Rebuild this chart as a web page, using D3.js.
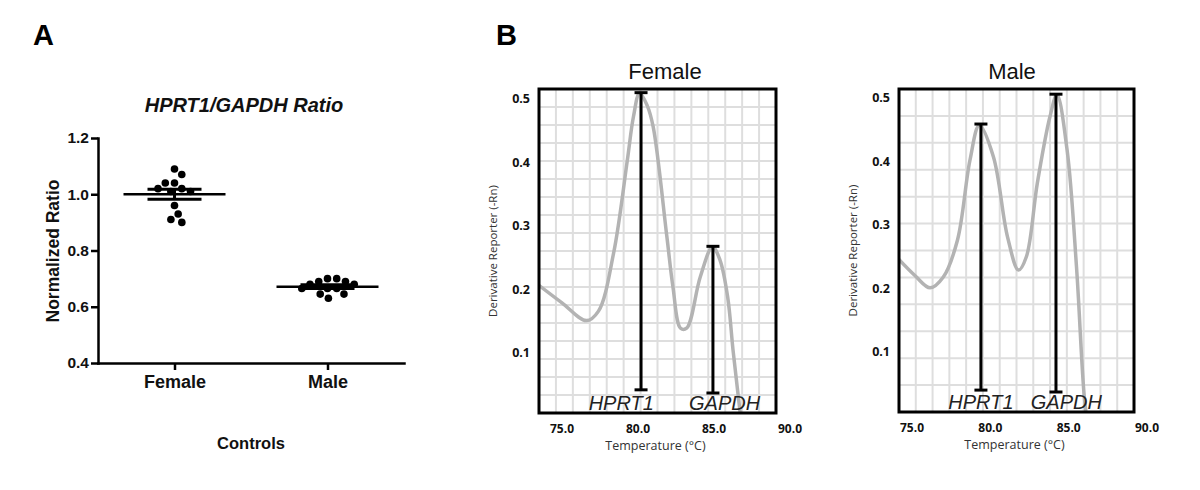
<!DOCTYPE html>
<html>
<head>
<meta charset="utf-8">
<script src="https://cdn.jsdelivr.net/npm/d3@7"></script>
<style>
  body { margin: 0; background: #fff; }
  svg { display: block; }
</style>
</head>
<body>
<div id="chart"></div>
<script>
/* =========================
   DATA
   ========================= */

// Panel A : HPRT1/GAPDH normalized ratio
const groups = ["Female", "Male"];
const femaleRatios = [1.09, 1.07, 1.04, 1.04, 1.02, 1.02, 1.01, 1.01, 0.96, 0.93, 0.91, 0.90];
const maleRatios = [0.70, 0.70, 0.69, 0.69, 0.68, 0.68, 0.665, 0.665, 0.665, 0.645, 0.645, 0.63];
const ratioTicks = [0.4, 0.6, 0.8, 1.0, 1.2];

// Panel B : melt curves (temperature °C, derivative reporter)
const femaleTemp = [73.3, 75.0, 76.6, 77.4, 78.4, 79.3, 79.7, 80.1, 80.6, 81.0, 81.9, 82.3, 82.8, 83.2, 84.1, 84.9, 85.4, 85.9, 86.25, 86.6, 86.9];
const femaleDeriv = [0.21, 0.179, 0.151, 0.166, 0.258, 0.404, 0.472, 0.509, 0.49, 0.456, 0.283, 0.204, 0.139, 0.139, 0.22, 0.267, 0.246, 0.188, 0.105, 0.031, -0.03];

const maleTemp = [74.0, 75.2, 76.15, 77.0, 77.9, 78.7, 79.3, 80.2, 81.1, 81.8, 82.3, 83.0, 83.8, 84.25, 84.9, 85.5, 86.0, 86.3];
const maleDeriv = [0.25, 0.22, 0.201, 0.218, 0.276, 0.402, 0.457, 0.407, 0.281, 0.229, 0.25, 0.366, 0.47, 0.505, 0.418, 0.234, 0.029, -0.03];

const genes = ["HPRT1", "GAPDH"];
const femalePeakTemp = [80.2, 84.93];
const femalePeakTop = [0.51, 0.268];
const femalePeakBottom = [0.042, 0.037];
const femaleLabelTemp = [78.9, 85.7];

const malePeakTemp = [79.4, 84.19];
const malePeakTop = [0.459, 0.506];
const malePeakBottom = [0.04, 0.037];
const maleLabelTemp = [79.4, 84.85];

const tempTicks = [75, 80, 85, 90];
const derivTicks = [0.1, 0.2, 0.3, 0.4, 0.5];

/* =========================
   SVG
   ========================= */

const WIDTH = 1200;
const HEIGHT = 490;

const svg = d3.select("#chart")
  .append("svg")
  .attr("width", WIDTH)
  .attr("height", HEIGHT);

svg.append("rect")
  .attr("width", WIDTH)
  .attr("height", HEIGHT)
  .attr("fill", "#fff");

const SANS = "'Liberation Sans', Arial, sans-serif";
const OPEN = "'Open Sans', 'Liberation Sans', sans-serif";

// panel letters
svg.append("text").attr("x", 33).attr("y", 45)
  .attr("font-family", SANS).attr("font-size", 29).attr("font-weight", "bold").text("A");
svg.append("text").attr("x", 496).attr("y", 45)
  .attr("font-family", SANS).attr("font-size", 29).attr("font-weight", "bold").text("B");

/* =========================
   PANEL A : dot plot
   ========================= */

const yA = d3.scaleLinear().domain([0.4, 1.2]).range([363, 138]);
const xA = d3.scalePoint().domain(groups).range([98, 404]).padding(0.5);

const gA = svg.append("g");

// y axis
const yAxisA = gA.append("g")
  .attr("transform", "translate(98,0)")
  .call(d3.axisLeft(yA).tickValues(ratioTicks).tickFormat(d3.format(".1f"))
    .tickSize(7).tickSizeOuter(0).tickPadding(2));

// x axis
const xAxisA = gA.append("g")
  .attr("transform", "translate(0,363)")
  .call(d3.axisBottom(xA).tickSize(7).tickSizeOuter(0).tickPadding(5));

gA.selectAll(".domain").attr("stroke", "#000").attr("stroke-width", 2.5)
  .attr("stroke-linecap", "square");
gA.selectAll(".tick line").attr("stroke", "#000").attr("stroke-width", 2.5);
yAxisA.selectAll("text").attr("font-family", SANS).attr("font-weight", "bold")
  .attr("font-size", 15.5).attr("fill", "#111");
xAxisA.selectAll("text").attr("font-family", SANS).attr("font-weight", "bold")
  .attr("font-size", 18).attr("fill", "#111");

// titles
gA.append("text")
  .attr("x", 244).attr("y", 112)
  .attr("text-anchor", "middle")
  .attr("font-family", SANS).attr("font-weight", "bold").attr("font-style", "italic")
  .attr("font-size", 20).attr("fill", "#111")
  .text("HPRT1/GAPDH Ratio");

gA.append("text")
  .attr("transform", "translate(59,251) rotate(-90)")
  .attr("text-anchor", "middle")
  .attr("font-family", SANS).attr("font-weight", "bold")
  .attr("font-size", 17.5).attr("fill", "#111")
  .text("Normalized Ratio");

gA.append("text")
  .attr("x", 251).attr("y", 449)
  .attr("text-anchor", "middle")
  .attr("font-family", SANS).attr("font-weight", "bold")
  .attr("font-size", 16.5).attr("fill", "#111")
  .text("Controls");

// simple beeswarm placement
function swarm(values, cx, r) {
  const placed = [];
  const pts = values.map(v => ({ v, y: yA(v) })).sort((a, b) => a.y - b.y);
  pts.forEach(p => {
    const cands = [0];
    placed.forEach(q => {
      const dy = Math.abs(p.y - q.y);
      if (dy < 2 * r) {
        const dx = Math.sqrt(4 * r * r - dy * dy);
        cands.push(q.x + dx, q.x - dx);
      }
    });
    cands.sort((a, b) => Math.abs(a) - Math.abs(b));
    p.x = cands.find(c => placed.every(q => (c - q.x) ** 2 + (p.y - q.y) ** 2 >= 4 * r * r - 0.01));
    placed.push(p);
  });
  return placed.map(p => ({ v: p.v, x: cx + p.x, y: p.y }));
}

function drawGroup(name, values) {
  const cx = xA(name);
  const mean = d3.mean(values);
  const sem = d3.deviation(values) / Math.sqrt(values.length);
  const g = gA.append("g");

  g.selectAll("circle")
    .data(swarm(values, cx, 4.6))
    .enter()
    .append("circle")
    .attr("cx", d => d.x)
    .attr("cy", d => d.y)
    .attr("r", 3.8)
    .attr("fill", "#000");

  // mean
  g.append("line")
    .attr("x1", cx - 51).attr("x2", cx + 51)
    .attr("y1", yA(mean)).attr("y2", yA(mean))
    .attr("stroke", "#000").attr("stroke-width", 2.5);
  // sem
  [mean - sem, mean + sem].forEach(v => {
    g.append("line")
      .attr("x1", cx - 27).attr("x2", cx + 27)
      .attr("y1", yA(v)).attr("y2", yA(v))
      .attr("stroke", "#000").attr("stroke-width", 3);
  });
  g.append("line")
    .attr("x1", cx).attr("x2", cx)
    .attr("y1", yA(mean + sem)).attr("y2", yA(mean - sem))
    .attr("stroke", "#000").attr("stroke-width", 3);
}

drawGroup("Female", femaleRatios);
drawGroup("Male", maleRatios);

/* =========================
   PANEL B : melt curves
   ========================= */

function drawMelt(cfg) {
  const { left, right, top, bottom } = cfg.box;
  const x = d3.scaleLinear().domain(cfg.xCal).range(cfg.xPix);
  const y = d3.scaleLinear().domain([0.1, 0.5]).range(cfg.yPix);
  const g = svg.append("g");

  const clipId = "clip-" + cfg.title;
  g.append("clipPath").attr("id", clipId)
    .append("rect")
    .attr("x", left).attr("y", top)
    .attr("width", right - left).attr("height", bottom - top);

  // grid
  const grid = g.append("g").attr("stroke", "#dedede").attr("stroke-width", 2);
  d3.range(1, cfg.cols).forEach(i => {
    const gx = left + (right - left) * i / cfg.cols;
    grid.append("line").attr("x1", gx).attr("x2", gx).attr("y1", top).attr("y2", bottom);
  });
  d3.range(1, cfg.rows).forEach(i => {
    const gy = top + (bottom - top) * i / cfg.rows;
    grid.append("line").attr("x1", left).attr("x2", right).attr("y1", gy).attr("y2", gy);
  });

  // curve
  const line = d3.line()
    .x(d => x(d[0]))
    .y(d => y(d[1]))
    .curve(d3.curveCatmullRom.alpha(0.5));

  g.append("path")
    .datum(d3.zip(cfg.temp, cfg.deriv))
    .attr("clip-path", `url(#${clipId})`)
    .attr("d", line)
    .attr("fill", "none")
    .attr("stroke", "#b3b3b3")
    .attr("stroke-width", 3.5)
    .attr("stroke-linejoin", "round");

  // peak bars
  const bars = genes.map((gene, i) => ({
    gene, t: cfg.peakTemp[i], top: cfg.peakTop[i], bottom: cfg.peakBottom[i], lt: cfg.labelTemp[i]
  }));

  bars.forEach(b => {
    const bx = x(b.t);
    g.append("line")
      .attr("x1", bx).attr("x2", bx).attr("y1", y(b.top)).attr("y2", y(b.bottom))
      .attr("stroke", "#000").attr("stroke-width", 3);
    [b.top, b.bottom].forEach(v => {
      g.append("line")
        .attr("x1", bx - 6.5).attr("x2", bx + 6.5).attr("y1", y(v)).attr("y2", y(v))
        .attr("stroke", "#000").attr("stroke-width", 3);
    });
    g.append("text")
      .attr("x", x(b.lt)).attr("y", bottom - 3)
      .attr("text-anchor", "middle")
      .attr("font-family", SANS).attr("font-style", "italic")
      .attr("font-size", 20).attr("fill", "#222")
      .text(b.gene);
  });

  // frame
  g.append("rect")
    .attr("x", left).attr("y", top)
    .attr("width", right - left).attr("height", bottom - top)
    .attr("fill", "none").attr("stroke", "#000").attr("stroke-width", 3);

  // tick labels
  g.selectAll(".ytick")
    .data(derivTicks)
    .enter()
    .append("text")
    .attr("x", left - 9)
    .attr("y", d => y(d) + 4)
    .attr("text-anchor", "end")
    .attr("font-family", OPEN).attr("font-weight", "bold")
    .attr("font-size", 12.5).attr("fill", "#111")
    .text(d3.format(".1f"));

  g.selectAll(".xtick")
    .data(tempTicks)
    .enter()
    .append("text")
    .attr("x", d => x(d))
    .attr("y", bottom + 20)
    .attr("text-anchor", "middle")
    .attr("font-family", OPEN).attr("font-weight", "bold")
    .attr("font-size", 12).attr("fill", "#111")
    .text(d3.format(".1f"));

  // axis titles
  g.append("text")
    .attr("x", (left + right) / 2 - 2).attr("y", bottom + 37)
    .attr("text-anchor", "middle")
    .attr("font-family", OPEN).attr("font-size", 12.5).attr("fill", "#333")
    .text("Temperature (°C)");

  g.append("text")
    .attr("transform", `translate(${left - 42},${(top + bottom) / 2}) rotate(-90)`)
    .attr("text-anchor", "middle")
    .attr("font-family", OPEN).attr("font-size", 11.5).attr("fill", "#333")
    .text("Derivative Reporter (-Rn)");

  g.append("text")
    .attr("x", cfg.titleX).attr("y", top - 10)
    .attr("text-anchor", "middle")
    .attr("font-family", SANS).attr("font-size", 22).attr("fill", "#111")
    .text(cfg.title);
}

drawMelt({
  title: "Female",
  titleX: 665,
  box: { left: 539, right: 776, top: 89, bottom: 413 },
  xCal: [75, 90], xPix: [562, 790],
  yPix: [353, 99],
  cols: 14, rows: 18,
  temp: femaleTemp, deriv: femaleDeriv,
  peakTemp: femalePeakTemp, peakTop: femalePeakTop, peakBottom: femalePeakBottom,
  labelTemp: femaleLabelTemp
});

drawMelt({
  title: "Male",
  titleX: 1012,
  box: { left: 899, right: 1134, top: 89, bottom: 412 },
  xCal: [75, 90], xPix: [912, 1147],
  yPix: [352, 98],
  cols: 14, rows: 12,
  temp: maleTemp, deriv: maleDeriv,
  peakTemp: malePeakTemp, peakTop: malePeakTop, peakBottom: malePeakBottom,
  labelTemp: maleLabelTemp
});
</script>
</body>
</html>
